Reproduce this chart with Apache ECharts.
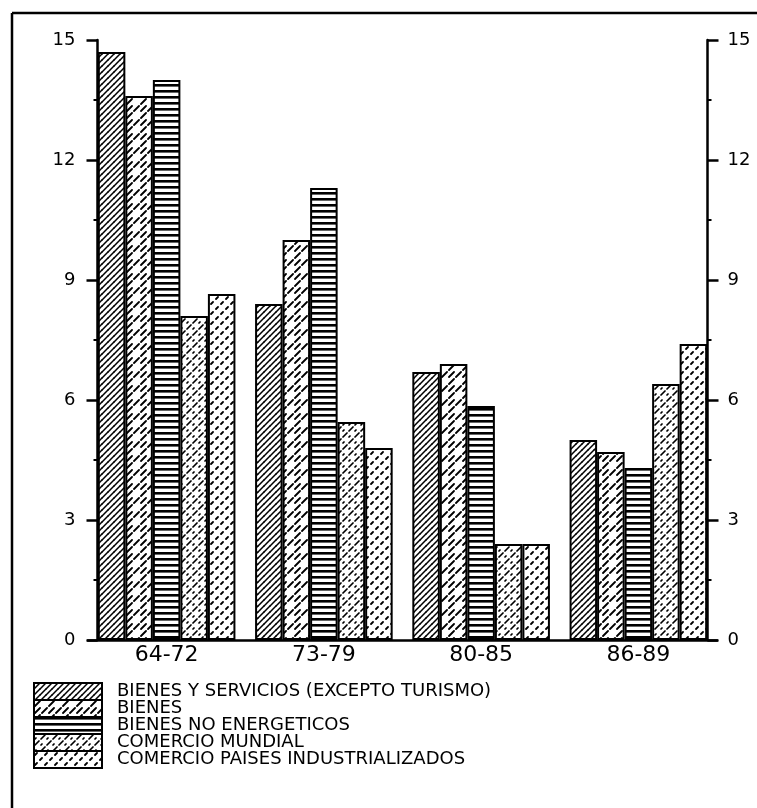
<!DOCTYPE html>
<html>
<head>
    <meta charset="utf-8">
    <title>Bienes y servicios</title>
    <script src="https://cdnjs.cloudflare.com/ajax/libs/echarts/6.0.0/echarts.min.js"></script>
    <style>
        body { margin: 0; background: #fff; }
        #chart { width: 757px; height: 808px; }
    </style>
</head>
<body>
    <div id="chart"></div>
    <script>
        var periods = ['64-72', '73-79', '80-85', '86-89'];
        var seriesNames = [
            'BIENES Y SERVICIOS (EXCEPTO TURISMO)',
            'BIENES',
            'BIENES NO ENERGETICOS',
            'COMERCIO MUNDIAL',
            'COMERCIO PAISES INDUSTRIALIZADOS'
        ];
        var bienesServicios = [14.7, 8.4, 6.7, 5.0];
        var bienes = [13.6, 10.0, 6.9, 4.7];
        var bienesNoEnergeticos = [14.0, 11.3, 5.85, 4.3];
        var comercioMundial = [8.1, 5.45, 2.4, 6.4];
        var comercioIndustrializados = [8.65, 4.8, 2.4, 7.4];
        var yTicks = [0, 3, 6, 9, 12, 15];

        // hatch tiles drawn on small canvases
        function tile(w, h, draw) {
            var c = document.createElement('canvas');
            c.width = w; c.height = h;
            var ctx = c.getContext('2d');
            ctx.fillStyle = '#fff';
            ctx.fillRect(0, 0, w, h);
            ctx.strokeStyle = '#000';
            ctx.fillStyle = '#000';
            ctx.lineCap = 'round';
            draw(ctx, w, h);
            return { image: c, repeat: 'repeat' };
        }

        function seg(ctx, w, h, x1, y1, x2, y2, lw) {
            ctx.lineWidth = lw;
            [-w, 0, w].forEach(function (dx) {
                [-h, 0, h].forEach(function (dy) {
                    ctx.beginPath();
                    ctx.moveTo(x1 + dx, y1 + dy);
                    ctx.lineTo(x2 + dx, y2 + dy);
                    ctx.stroke();
                });
            });
        }

        var patterns = [
            tile(6, 6, function (ctx, w, h) {
                seg(ctx, w, h, 0, 6, 6, 0, 1.5);
            }),
            tile(14, 14, function (ctx, w, h) {
                seg(ctx, w, h, 1, 13, 6, 8, 1.8);
                seg(ctx, w, h, 8, 13, 13, 8, 1.8);
                seg(ctx, w, h, 1, 6, 6, 1, 1.8);
            }),
            tile(4, 6, function (ctx, w, h) {
                ctx.fillRect(0, 0, w, 2.6);
            }),
            tile(12, 12, function (ctx, w, h) {
                seg(ctx, w, h, 1, 11, 5, 7, 1.7);
                seg(ctx, w, h, 7, 5, 11, 1, 1.7);
                seg(ctx, w, h, 7, 11, 8, 10, 1.7);
                seg(ctx, w, h, 1, 5, 2, 4, 1.7);
            }),
            tile(10, 10, function (ctx, w, h) {
                seg(ctx, w, h, 1, 4, 3, 2, 1.8);
                seg(ctx, w, h, 6, 9, 8, 7, 1.8);
            })
        ];

        var data = [bienesServicios, bienes, bienesNoEnergeticos, comercioMundial, comercioIndustrializados];

        var chart = echarts.init(document.getElementById('chart'), null, { renderer: 'canvas' });

        var yAxisBase = {
            type: 'value',
            min: 0,
            max: 15,
            interval: 3,
            splitLine: { show: false },
            axisLine: { show: true, lineStyle: { color: '#000', width: 2.5 } },
            axisTick: { show: true, length: 11, lineStyle: { color: '#000', width: 2.5 } },
            minorTick: { show: true, splitNumber: 2, length: 4, lineStyle: { color: '#000', width: 2 } },
            axisLabel: {
                color: '#000',
                fontFamily: 'DejaVu Sans',
                fontSize: 18,
                formatter: function (v) { return yTicks.indexOf(v) >= 0 ? String(v) : ''; }
            }
        };

        chart.setOption({
            animation: false,
            backgroundColor: '#fff',
            grid: { left: 88, right: 40, top: 40, bottom: 168 },
            legend: {
                orient: 'vertical',
                left: 33,
                top: 682,
                padding: 0,
                itemWidth: 68,
                itemHeight: 17,
                itemGap: -2,
                icon: 'rect',
                data: seriesNames,
                textStyle: {
                    color: '#000',
                    fontFamily: 'DejaVu Sans',
                    fontSize: 18,
                    lineHeight: 14,
                    padding: [0, 0, 0, 10]
                }
            },
            xAxis: {
                type: 'category',
                data: periods,
                axisLine: { show: true, lineStyle: { color: '#000', width: 2.5 } },
                axisTick: { show: false },
                axisLabel: {
                    color: '#000',
                    fontFamily: 'DejaVu Sans',
                    fontSize: 22,
                    margin: 4
                }
            },
            yAxis: [
                Object.assign({}, yAxisBase, { position: 'left', offset: -9.5, axisLabel: Object.assign({}, yAxisBase.axisLabel, { margin: 22 }) }),
                Object.assign({}, yAxisBase, { position: 'right', offset: -9.5, axisLabel: Object.assign({}, yAxisBase.axisLabel, { margin: 20 }) })
            ],
            series: seriesNames.map(function (name, i) {
                return {
                    name: name,
                    type: 'bar',
                    data: data[i],
                    barGap: '0%',
                    barCategoryGap: '12.5%',
                    itemStyle: {
                        color: patterns[i],
                        borderColor: '#000',
                        borderWidth: 2
                    }
                };
            }),
            graphic: [
                { type: 'line', shape: { x1: 12, y1: 13, x2: 757, y2: 13 }, style: { stroke: '#000', lineWidth: 2.5 } },
                { type: 'line', shape: { x1: 12, y1: 13, x2: 12, y2: 808 }, style: { stroke: '#000', lineWidth: 2.5 } }
            ]
        });
    </script>
</body>
</html>
